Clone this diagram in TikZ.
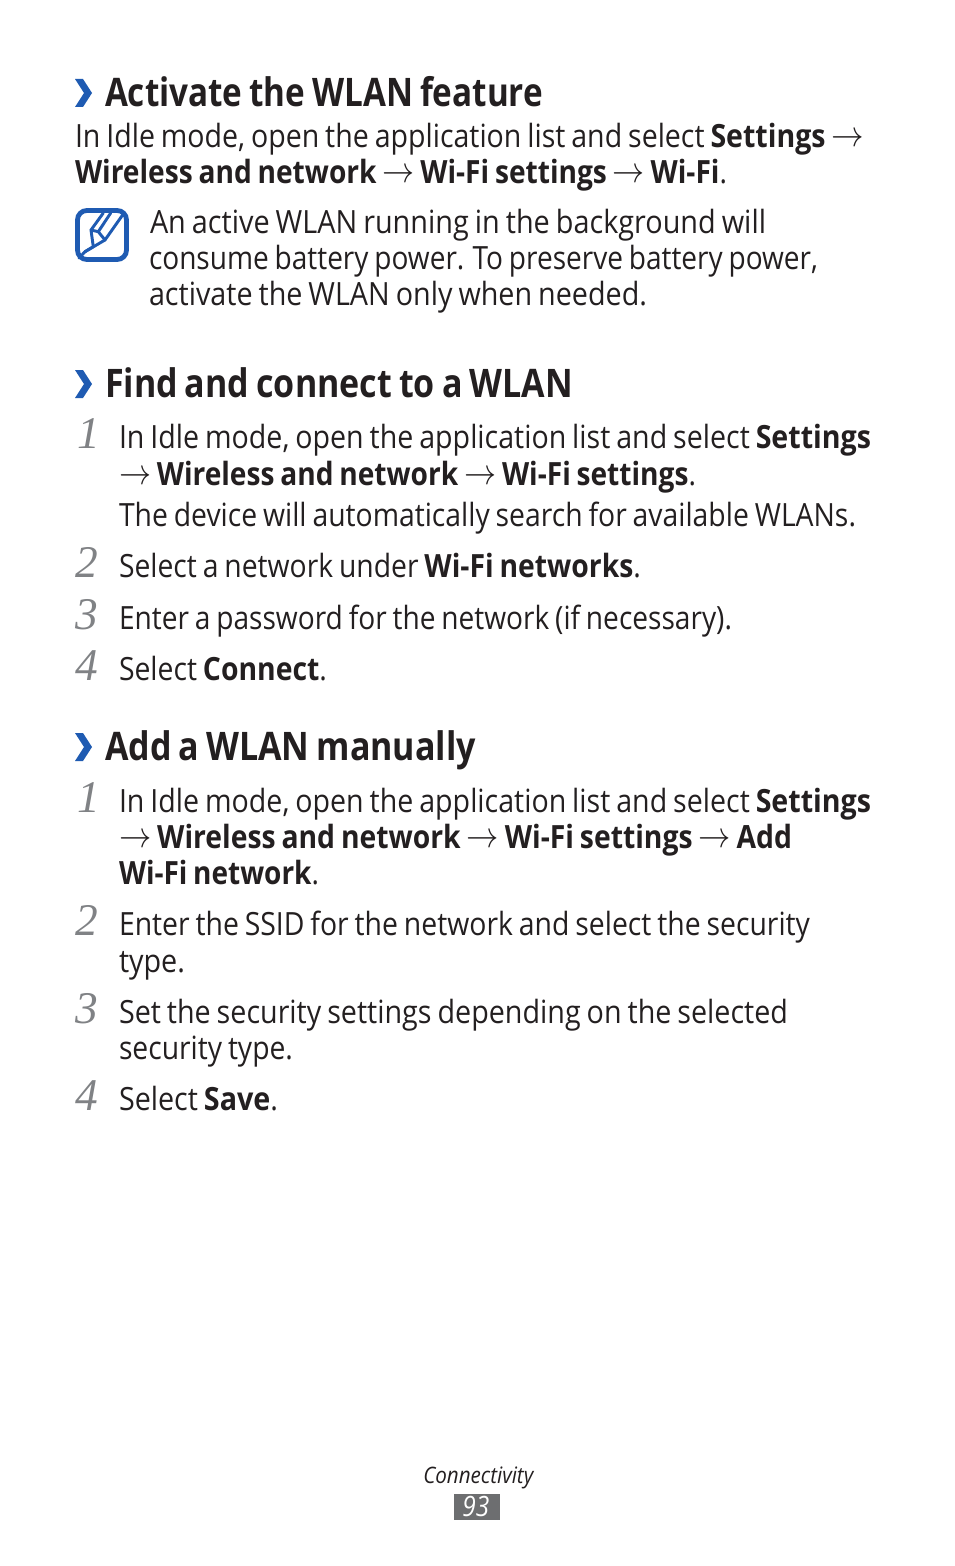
\documentclass[tikz,border=0pt]{standalone}
\usepackage{fontspec}
\usepackage{graphicx}
\setmainfont[WordSpace=0.8]{Open Sans}
\newfontfamily\numfont{Liberation Serif}
\definecolor{ink}{HTML}{231F20}
\definecolor{sblue}{HTML}{1F5BB2}
\definecolor{numgray}{HTML}{808285}
\definecolor{pagebox}{HTML}{6D6E70}
\newcommand{\ar}{\raisebox{0.3pt}{\scalebox{1.1}{$\rightarrow$}}}
\newcommand{\fit}[2]{\resizebox{#1\dimexpr0.75pt\relax}{\height}{#2}}
\tikzset{
  x=0.75pt,y=-0.75pt,
  body/.style={anchor=base west,inner sep=0pt,outer sep=0pt,yshift=0.75pt,text=ink,font=\fontsize{24}{27}\selectfont},
  head/.style={anchor=base west,inner sep=0pt,outer sep=0pt,yshift=-0.75pt,text=ink,font=\fontsize{29.5}{32}\selectfont\bfseries},
  stepnum/.style={anchor=base west,inner sep=0pt,outer sep=0pt,xshift=0.75pt,yshift=0.75pt,text=numgray,font=\fontsize{34}{34}\selectfont\numfont\itshape},
  chev/.style={fill=sblue,draw=none},
  iconline/.style={draw=sblue,line width=2.2pt,line join=round,line cap=round},
}
\newcommand{\chevron}[1]{\fill[chev] (75,#1-14) -- (83,#1-14) -- (92,#1) -- (83,#1+14) -- (75,#1+14) -- (84,#1) -- cycle;}
\begin{document}
\begin{tikzpicture}
\useasboundingbox (0,0) rectangle (954,1566);
\fill[white] (0,0) rectangle (954,1566);
% headings
\chevron{93}
\node[head] (h1) at (105,106) {\fit{438}{Activate the WLAN feature}};
\chevron{384}
\node[head] (h2) at (105,396) {\fit{468}{Find and connect to a WLAN}};
\chevron{747}
\node[head] (h3) at (105,759) {\fit{371}{Add a WLAN manually}};
% intro
\node[body] (a1) at (75,148) {\fit{789}{In Idle mode, open the application list and select \textbf{Settings} \ar}};
\node[body] (a2) at (75,184) {\fit{652}{\textbf{Wireless and network} \ar\ \textbf{Wi-Fi settings} \ar\ \textbf{Wi-Fi}.}};
% note icon
\draw[sblue,line width=3.6pt,rounded corners=7pt] (77.5,210.5) rectangle (126.5,259.5);
\draw[iconline] (103.3,213) -- (91,230) -- (93.3,246.7) -- (85,251.7) -- (79,258);
\draw[iconline] (110.7,213) -- (98.3,231.7);
\draw[iconline] (123.3,214) -- (105,240) -- (85,251.7);
\draw[iconline] (91,230) -- (98.3,231.7) -- (105,240);
\node[body] (n1) at (150,234) {\fit{616}{An active WLAN running in the background will}};
\node[body] (n2) at (149,270) {\fit{669}{consume battery power. To preserve battery power,}};
\node[body] (n3) at (149,306) {\fit{498}{activate the WLAN only when needed.}};
% section 2
\node[stepnum] (s1) at (76,449) {1};
\node[body] (b1) at (119,449) {\fit{752}{In Idle mode, open the application list and select \textbf{Settings}}};
\node[body] (b2) at (119,486) {\fit{577}{\ar\ \textbf{Wireless and network} \ar\ \textbf{Wi-Fi settings}.}};
\node[body] (b3) at (119,527) {\fit{737}{The device will automatically search for available WLANs.}};
\node[stepnum] (s2) at (74,578) {2};
\node[body] (b4) at (119,578) {\fit{522}{Select a network under \textbf{Wi-Fi networks}.}};
\node[stepnum] (s3) at (74,630) {3};
\node[body] (b5) at (119,630) {\fit{613}{Enter a password for the network (if necessary).}};
\node[stepnum] (s4) at (74,681) {4};
\node[body] (b6) at (119,681) {\fit{208}{Select \textbf{Connect}.}};
% section 3
\node[stepnum] (t1) at (76,813) {1};
\node[body] (c1) at (119,813) {\fit{752}{In Idle mode, open the application list and select \textbf{Settings}}};
\node[body] (c2) at (119,849) {\fit{673}{\ar\ \textbf{Wireless and network} \ar\ \textbf{Wi-Fi settings} \ar\ \textbf{Add}}};
\node[body] (c3) at (119,885) {\fit{200}{\textbf{Wi-Fi network}.}};
\node[stepnum] (t2) at (74,936) {2};
\node[body] (c4) at (119,936) {\fit{691}{Enter the SSID for the network and select the security}};
\node[body] (c5) at (119,973) {\fit{66}{type.}};
\node[stepnum] (t3) at (74,1024) {3};
\node[body] (c6) at (119,1024) {\fit{669}{Set the security settings depending on the selected}};
\node[body] (c7) at (119,1060) {\fit{174}{security type.}};
\node[stepnum] (t4) at (74,1111) {4};
\node[body] (c8) at (119,1111) {\fit{159}{Select \textbf{Save}.}};
% footer
\node[anchor=base west,inner sep=0pt,text=ink,font=\fontsize{17}{20}\selectfont\itshape] (f1) at (423,1483) {\fit{110}{Connectivity}};
\fill[pagebox] (454,1494) rectangle (500,1520);
\node[anchor=base west,inner sep=0pt,text=white,font=\fontsize{21}{24}\selectfont\itshape] (f2) at (462,1516) {\fit{27}{93}};
\end{tikzpicture}
\end{document}
